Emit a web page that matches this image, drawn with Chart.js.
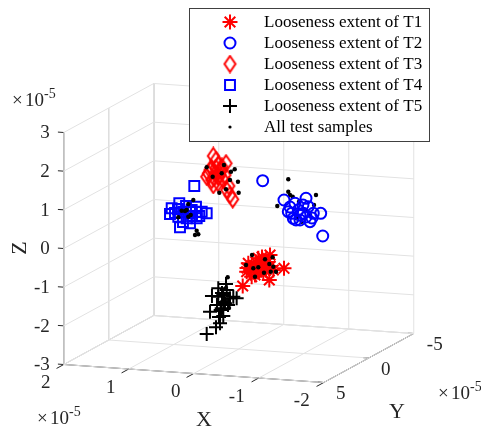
<!DOCTYPE html>
<html>
<head>
<meta charset="utf-8">
<title>Looseness extent</title>
<script src="https://cdn.jsdelivr.net/npm/chart.js@4"></script>
<style>
  html, body { margin: 0; padding: 0; background: #fff; }
  canvas { display: block; }
</style>
</head>
<body>
<canvas id="chart" width="481" height="429"></canvas>
<script>
// All values in units of 1e-5. A single view can't give depth, so points sit on the Y = 0 plane.
const t1X = [-0.061, -0.470, -0.696, -0.481, -0.301, -0.147, -0.122, -0.199, -0.301, -0.404, -0.532, -0.378, -0.224, -0.250, -0.450,
  -0.358, -0.265, -0.327, -0.419, -0.173, -0.281, -0.481, -0.358, -0.235, -0.127];
const t1Z = [-1.364, -1.161, -0.832, -0.513, -0.619, -0.766, -0.987, -1.107, -0.878, -0.780, -0.895, -0.998, -0.801, -1.057, -0.697,
  -0.708, -0.719, -0.919, -0.908, -0.885, -0.976, -0.798, -0.579, -0.929, -0.890];
const t2X = [-0.368, -0.696, -1.035, -1.261, -1.292, -0.762, -0.865, -0.839, -0.993, -1.096, -0.942, -1.147, -1.070, -0.916, -0.815,
  -0.942, -1.035, -0.988, -0.881, -1.127, -0.788];
const t2Z = [1.395, 0.934, 1.018, 0.656, 0.073, 0.640, 0.869, 0.478, 0.625, 0.420, 0.446, 0.643, 0.805, 0.701, 0.604,
  0.575, 0.534, 0.839, 0.439, 0.519, 0.764];
const t3X = [0.392, 0.196, 0.315, 0.416, 0.262, 0.365, 0.468, 0.315, 0.416, 0.238, 0.392, 0.493, 0.185, 0.135, 0.093, 0.212,
  0.350, 0.288, 0.381, 0.258, 0.442, 0.319, 0.350, 0.152];
const t3Z = [1.946, 1.780, 1.722, 1.625, 1.599, 1.501, 1.489, 1.419, 1.322, 1.343, 1.196, 1.398, 1.091, 0.967, 0.861, 1.475,
  1.640, 1.466, 1.378, 1.677, 1.578, 1.256, 1.847, 1.198];
const t4X = [0.684, 0.915, 1.032, 0.658, 1.058, 0.853, 0.724, 0.493, 0.570, 0.904, 0.750, 0.647, 0.801, 0.930, 0.607,
  0.935, 0.811, 0.719, 0.981, 0.858, 0.750, 0.658];
const t4Z = [1.136, 0.662, 0.519, 0.604, 0.368, 0.452, 0.510, 0.452, 0.485, 0.042, 0.164, 0.305, 0.287, 0.313, 0.369,
  0.512, 0.604, 0.356, 0.403, 0.185, 0.456, 0.467];
const t5X = [0.493, 0.350, 0.288, 0.442, 0.238, 0.278, 0.315, 0.315, 0.185, 0.032, 0.135, 0.212, 0.238, 0.084, 0.262,
  0.258, 0.335, 0.227, 0.412, 0.165, 0.304, 0.196];
const t5Z = [-2.669, -2.479, -2.369, -2.087, -2.174, -2.024, -1.467, -1.684, -1.495, -1.692, -1.704, -1.843, -1.631, -1.657, -1.978,
  -1.582, -1.901, -1.811, -1.677, -1.881, -2.208, -1.342];
const sampleX = [0.493, 0.227, 0.119, 0.062, 0.135, 0.012, 0.299, 0.001, 0.196, 0.401, 0.262,
  0.699, 0.776, 0.878, 0.801, 0.930, 0.776, 0.739, 0.673, 0.622, 0.647, 0.827,
  -0.762, -0.762, -0.788, -0.830, -0.593, -1.188, -0.927, -1.158, -0.968, -0.892, -1.019, -1.096,
  -0.204, -0.522, -0.404, -0.112, -0.470, -0.532, -0.301, -0.224, -0.250, -0.388, -0.492, -0.573,
  0.170, 0.196, 0.165, 0.258, 0.212, 0.319, 0.258, 0.150];
const sampleZ = [1.642, 1.732, 1.571, 1.640, 1.355, 1.325, 1.007, 1.042, 1.107, 1.409, 1.513,
  0.772, 0.660, 0.475, 0.502, 0.298, 0.331, 0.379, -0.130, -0.106, -0.016, 0.473,
  1.477, 1.157, 1.074, 1.035, 0.767, 1.121, 0.917, 0.859, 0.405, 0.484, 0.713, 0.593,
  -0.545, -0.568, -0.633, -0.815, -0.747, -0.810, -0.852, -0.887, -1.101, -0.981, -0.944, -0.934,
  -1.165, -1.445, -1.597, -1.814, -1.757, -2.028, -2.073, -1.957];

const xTicks = [2, 1, 0, -1, -2];
const yTicks = [5, 0, -5];
const zTicks = [3, 2, 1, 0, -1, -2, -3];
const legendLabels = ['Looseness extent of T1', 'Looseness extent of T2', 'Looseness extent of T3',
  'Looseness extent of T4', 'Looseness extent of T5', 'All test samples'];

const SERIF = "'Liberation Serif', 'Times New Roman', serif";
const INK = '#262626';
const GRID = '#e2e2e2';
const EDGE = '#b4b4b4';

// Orthographic view: data (x, y, z) to the flat plane the chart's scales cover
function project(x, y, z) {
  return {
    x: 238.75 - 65 * x - 9 * y,
    y: 233 - 4.5 * x + 4.9 * y - 38.67 * z,
  };
}

function diamondMarker(color) {
  const c = document.createElement('canvas');
  c.width = 15;
  c.height = 19;
  const g = c.getContext('2d');
  g.strokeStyle = color;
  g.lineWidth = 2;
  g.beginPath();
  g.moveTo(7.5, 1.5);
  g.lineTo(13, 9.5);
  g.lineTo(7.5, 17.5);
  g.lineTo(2, 9.5);
  g.closePath();
  g.stroke();
  return c;
}

const diamond = diamondMarker('#ff0000');

const styles = [
  { pointStyle: 'star', radius: 7.5, color: '#ff0000', borderWidth: 2 },
  { pointStyle: 'circle', radius: 5.5, color: '#0000ff', borderWidth: 2 },
  { pointStyle: diamond, radius: 7, color: '#ff0000', borderWidth: 2 },
  { pointStyle: 'rect', radius: 7, color: '#0000ff', borderWidth: 2 },
  { pointStyle: 'cross', radius: 7, color: '#000000', borderWidth: 2 },
  { pointStyle: 'circle', radius: 2.2, color: '#000000', borderWidth: 0, fill: true },
];

function series(xs, zs, style, order) {
  return {
    data: xs.map((x, i) => project(x, 0, zs[i])),
    showLine: false,
    pointStyle: style.pointStyle,
    pointRadius: style.radius,
    pointBorderColor: style.color,
    pointBackgroundColor: style.fill ? style.color : 'transparent',
    pointBorderWidth: style.borderWidth,
    order,
  };
}

function seg(a, b, color, width) {
  return {
    data: [project(...a), project(...b)],
    showLine: true,
    pointRadius: 0,
    borderColor: color,
    borderWidth: width,
    order: 100,
  };
}

const lines = [];
// floor and the two back walls
xTicks.forEach(x => {
  lines.push(seg([x, 5, -3], [x, -5, -3], GRID, 1));
  lines.push(seg([x, -5, -3], [x, -5, 3], GRID, 1));
});
yTicks.forEach(y => {
  lines.push(seg([2, y, -3], [-2, y, -3], GRID, 1));
  lines.push(seg([2, y, -3], [2, y, 3], GRID, 1));
});
zTicks.forEach(z => {
  lines.push(seg([2, 5, z], [2, -5, z], GRID, 1));
  lines.push(seg([2, -5, z], [-2, -5, z], GRID, 1));
});
// box edges that carry no axis
lines.push(seg([2, -5, -3], [2, -5, 3], EDGE, 1.5));
lines.push(seg([2, 0, -3], [2, 0, 3], '#cfcfcf', 1.2));
lines.push(seg([2, 5, -3], [2, -5, -3], EDGE, 1));
lines.push(seg([2, -5, -3], [-2, -5, -3], '#d0d0d0', 1));
// axes with their ticks
lines.push(seg([2, 5, -3], [2, 5, 3], INK, 1));
lines.push(seg([2, 5, -3], [-2, 5, -3], INK, 1));
lines.push(seg([-2, 5, -3], [-2, -5, -3], INK, 1));
zTicks.forEach(z => lines.push(seg([2, 5, z], [2.09, 5, z], INK, 1)));
xTicks.forEach(x => lines.push(seg([x, 5, -3], [x, 5.8, -3], INK, 1)));
yTicks.forEach(y => lines.push(seg([-2, y, -3], [-1.91, y, -3], INK, 1)));

function exponent(ctx, x, y) {
  ctx.textAlign = 'left';
  ctx.font = '19px ' + SERIF;
  ctx.fillText('\u00d7', x, y);
  ctx.fillText('10', x + 13, y);
  ctx.font = '14px ' + SERIF;
  ctx.fillText('-5', x + 32, y - 7);
}

const textPlugin = {
  id: 'axisText',
  afterDatasetsDraw(chart) {
    const ctx = chart.ctx;
    const sx = chart.scales.x;
    const sy = chart.scales.y;
    ctx.save();
    ctx.fillStyle = INK;
    ctx.textBaseline = 'middle';
    ctx.font = '19px ' + SERIF;

    ctx.textAlign = 'right';
    zTicks.forEach(z => {
      const p = project(2, 5, z);
      ctx.fillText(String(z), sx.getPixelForValue(p.x) - 14, sy.getPixelForValue(p.y) + 1);
    });
    ctx.textAlign = 'center';
    xTicks.forEach(x => {
      const p = project(x, 5, -3);
      const off = x < 0 ? -22 : -18;
      ctx.fillText(String(x), sx.getPixelForValue(p.x) + off, sy.getPixelForValue(p.y) + 19);
    });
    yTicks.forEach(y => {
      const p = project(-2, y, -3);
      const off = y < 0 ? 21 : 17;
      ctx.fillText(String(y), sx.getPixelForValue(p.x) + off, sy.getPixelForValue(p.y) + 12);
    });

    exponent(ctx, 12, 101);
    exponent(ctx, 37, 419);
    exponent(ctx, 438, 394);

    ctx.textAlign = 'center';
    ctx.font = '22px ' + SERIF;
    ctx.fillText('X', 204, 420);
    ctx.fillText('Y', 397, 412);
    ctx.save();
    ctx.translate(20, 248);
    ctx.rotate(-Math.PI / 2);
    ctx.fillText('Z', 0, 0);
    ctx.restore();
    ctx.restore();
  },
};

const legendPlugin = {
  id: 'boxLegend',
  afterDraw(chart) {
    const ctx = chart.ctx;
    ctx.save();
    ctx.fillStyle = '#ffffff';
    ctx.fillRect(189, 8, 240, 133);
    ctx.strokeStyle = '#404040';
    ctx.lineWidth = 1;
    ctx.strokeRect(189.5, 8.5, 240, 133);
    legendLabels.forEach((label, i) => {
      const y = 22 + i * 21;
      const st = styles[i];
      ctx.strokeStyle = st.color;
      ctx.fillStyle = st.fill ? st.color : 'transparent';
      ctx.lineWidth = st.borderWidth;
      // legend dot is a touch smaller than the plotted ones
      const radius = st.fill ? 1.6 : st.radius;
      Chart.helpers.drawPoint(ctx, { pointStyle: st.pointStyle, rotation: 0, radius, borderWidth: st.borderWidth }, 230, y);
      ctx.fillStyle = '#000000';
      ctx.font = '17px ' + SERIF;
      ctx.textAlign = 'left';
      ctx.textBaseline = 'middle';
      ctx.fillText(label, 264, y + 1);
    });
    ctx.restore();
  },
};

new Chart(document.getElementById('chart'), {
  type: 'scatter',
  data: {
    datasets: [
      ...lines,
      series(t1X, t1Z, styles[0], 6),
      series(t3X, t3Z, styles[2], 5),
      series(t4X, t4Z, styles[3], 4),
      series(t5X, t5Z, styles[4], 3),
      series(sampleX, sampleZ, styles[5], 2),
      series(t2X, t2Z, styles[1], 1),
    ],
  },
  options: {
    responsive: false,
    animation: false,
    layout: { padding: 0, autoPadding: false },
    plugins: { legend: { display: false }, tooltip: { enabled: false } },
    scales: {
      x: { type: 'linear', display: false, min: 0, max: 481 },
      y: { type: 'linear', display: false, min: 0, max: 429, reverse: true },
    },
  },
  plugins: [textPlugin, legendPlugin],
});
</script>
</body>
</html>
